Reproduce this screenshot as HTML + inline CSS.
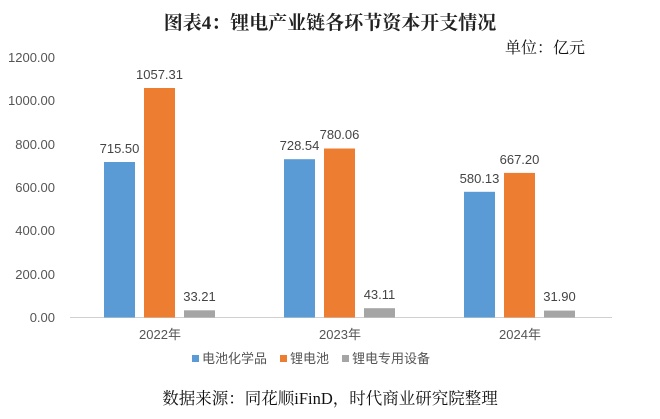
<!DOCTYPE html>
<html><head><meta charset="utf-8"><style>
body{margin:0;background:#fff;width:660px;height:414px;overflow:hidden}
svg text{font-family:"Liberation Sans","Noto Sans CJK SC",sans-serif}
</style></head><body>
<svg width="660" height="414" xmlns="http://www.w3.org/2000/svg">
<text x="330" y="29" text-anchor="middle" font-size="19" font-weight="bold" fill="#222" style="font-family:'Liberation Serif','Noto Serif CJK SC',serif">图表4：锂电产业链各环节资本开支情况</text>
<text x="585" y="53" text-anchor="end" font-size="16" fill="#111" style="font-family:'Liberation Serif','Noto Serif CJK SC',serif">单位：亿元</text>
<g font-size="13" fill="#555" text-anchor="end">
<text x="55" y="322">0.00</text>
<text x="55" y="279">200.00</text>
<text x="55" y="235">400.00</text>
<text x="55" y="192">600.00</text>
<text x="55" y="149">800.00</text>
<text x="55" y="105">1000.00</text>
<text x="55" y="62">1200.00</text>
</g>
<line x1="70" y1="317.5" x2="612" y2="317.5" stroke="#d0d0d0" stroke-width="1"/>
<g>
<rect x="104" y="162" width="31" height="155.5" fill="#5b9bd5"/>
<rect x="144" y="88" width="31" height="229.5" fill="#ed7d31"/>
<rect x="184" y="310.3" width="31" height="7.2" fill="#a5a5a5"/>
<rect x="284" y="159.2" width="31" height="158.3" fill="#5b9bd5"/>
<rect x="324" y="148.5" width="31" height="169" fill="#ed7d31"/>
<rect x="364" y="308.2" width="31" height="9.3" fill="#a5a5a5"/>
<rect x="464" y="191.8" width="31" height="125.7" fill="#5b9bd5"/>
<rect x="504" y="172.9" width="31" height="144.6" fill="#ed7d31"/>
<rect x="544" y="310.6" width="31" height="6.9" fill="#a5a5a5"/>
</g>
<g font-size="13" fill="#444" text-anchor="middle">
<text x="119.5" y="153">715.50</text>
<text x="159.5" y="79">1057.31</text>
<text x="199.5" y="301">33.21</text>
<text x="299.5" y="150">728.54</text>
<text x="339.5" y="139">780.06</text>
<text x="379.5" y="299">43.11</text>
<text x="479.5" y="183">580.13</text>
<text x="519.5" y="164">667.20</text>
<text x="559.5" y="301">31.90</text>
</g>
<g font-size="13" fill="#555" text-anchor="middle">
<text x="160" y="339">2022年</text>
<text x="340" y="339">2023年</text>
<text x="520" y="339">2024年</text>
</g>
<g font-size="13" fill="#555">
<rect x="192" y="355" width="7" height="7" fill="#5b9bd5"/><text x="202" y="363">电池化学品</text>
<rect x="280" y="355" width="7" height="7" fill="#ed7d31"/><text x="290" y="363">锂电池</text>
<rect x="342" y="355" width="7" height="7" fill="#a5a5a5"/><text x="352" y="363">锂电专用设备</text>
</g>
<text x="330" y="404" text-anchor="middle" font-size="16.5" fill="#111" style="font-family:'Liberation Serif','Noto Serif CJK SC',serif">数据来源：同花顺iFinD，时代商业研究院整理</text>
</svg>
</body></html>
